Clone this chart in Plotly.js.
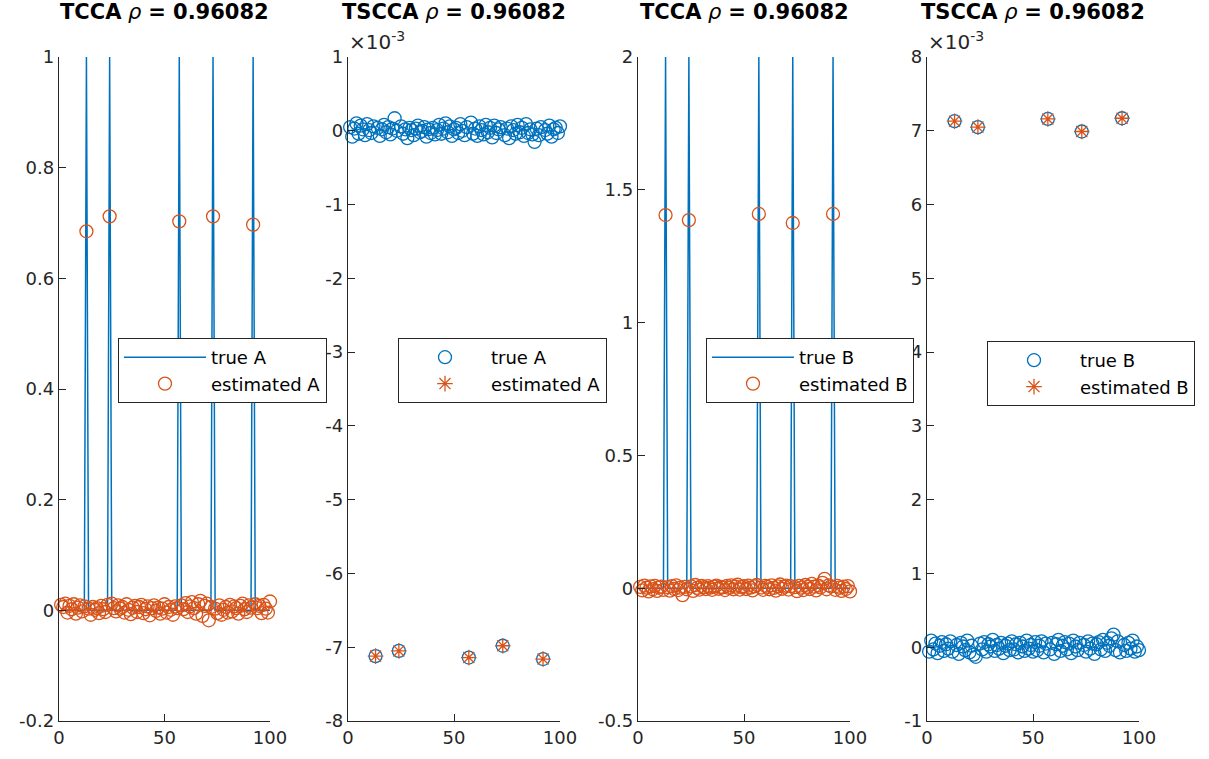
<!DOCTYPE html>
<html>
<head>
<meta charset="utf-8">
<script src="https://cdn.plot.ly/plotly-3.0.1.min.js"></script>
<style>html,body{margin:0;padding:0;background:#fff;}#chart{width:1209px;height:759px;}</style>
</head>
<body>
<div id="chart"></div>
<script>
// ---------------- DATA ----------------
var idx = [1,2,3,4,5,6,7,8,9,10,11,12,13,14,15,16,17,18,19,20,21,22,23,24,25,26,27,28,29,30,31,32,33,34,35,36,37,38,39,40,41,42,43,44,45,46,47,48,49,50,51,52,53,54,55,56,57,58,59,60,61,62,63,64,65,66,67,68,69,70,71,72,73,74,75,76,77,78,79,80,81,82,83,84,85,86,87,88,89,90,91,92,93,94,95,96,97,98,99,100];

var titles = ["TCCA", "TSCCA", "TCCA", "TSCCA"];
var rhoText = "0.96082";

// Panel 1: TCCA, A
var tccaTrueA = [
  0,0,0,0,0,0,0,0,0,0,
  0,0,1,0,0,0,0,0,0,0,
  0,0,0,1,0,0,0,0,0,0,
  0,0,0,0,0,0,0,0,0,0,
  0,0,0,0,0,0,0,0,0,0,
  0,0,0,0,0,0,1,0,0,0,
  0,0,0,0,0,0,0,0,0,0,
  0,0,1,0,0,0,0,0,0,0,
  0,0,0,0,0,0,0,0,0,0,
  0,1,0,0,0,0,0,0,0,0];
var tccaEstA = [
  0.010, 0.006, 0.012, -0.004, 0.008, 0.002, 0.011, -0.006, 0.005, 0.009,
  -0.002, 0.007, 0.685, 0.003, -0.008, 0.006, 0.001, 0.004, -0.005, 0.008,
  0.002, -0.003, 0.010, 0.712, 0.012, 0.004, -0.002, 0.009, 0.003, 0.006,
  -0.004, 0.011, 0.001, -0.007, 0.005, 0.008, -0.003, 0.006, 0.010, -0.005,
  0.002, 0.007, -0.009, 0.004, 0.009, -0.001, 0.005, -0.006, 0.003, 0.011,
  -0.004, 0.006, 0.001, -0.008, 0.007, 0.004, 0.703, 0.009, 0.002, 0.013,
  -0.003, 0.007, 0.015, 0.004, -0.006, 0.011, 0.017, -0.010, 0.008, 0.012,
  -0.018, 0.006, 0.712, 0.003, -0.005, 0.009, -0.008, 0.001, 0.006, -0.004,
  0.010, -0.002, 0.007, 0.004, -0.006, 0.008, 0.012, 0.002, -0.003, 0.009,
  0.005, 0.697, 0.011, 0.004, 0.008, -0.005, 0.010, 0.003, -0.004, 0.016];

// Panel 2: TSCCA, A (values in units of 1e-3)
var tsccaTrueA = [
  0.05, -0.08, 0.03, 0.10, -0.04, 0.07, 0.02, -0.06, 0.09, 0.01,
  -0.03, 0.06, -7.12, 0.04, -0.07, 0.02, 0.08, -0.02, 0.05, -0.05,
  0.03, 0.17, 0.00, -7.05, 0.06, -0.04, 0.02, -0.10, 0.04, 0.01,
  -0.06, 0.03, 0.07, -0.02, 0.00, 0.05, -0.08, 0.02, -0.03, 0.04,
  -0.05, 0.01, 0.08, -0.04, 0.03, 0.10, -0.02, 0.06, -0.07, 0.02,
  0.04, -0.03, 0.09, 0.00, -0.06, 0.05, -7.14, 0.11, -0.04, 0.03,
  -0.07, 0.06, 0.01, -0.05, 0.08, -0.02, 0.04, -0.09, 0.07, -0.03,
  0.02, 0.05, -6.98, -0.06, 0.03, -0.10, 0.06, 0.01, -0.04, 0.08,
  -0.02, 0.04, -0.07, 0.09, -0.03, 0.02, -0.05, -0.15, 0.03, -0.06,
  0.05, -7.16, 0.01, -0.04, 0.07, -0.08, 0.02, 0.04, -0.03, 0.06];
var tsccaEstAIdx = [13, 24, 57, 73, 92];
var tsccaEstA = [-7.12, -7.05, -7.14, -6.98, -7.16];

// Panel 3: TCCA, B
var tccaTrueB = [
  0,0,0,0,0,0,0,0,0,0,
  0,0,2,0,0,0,0,0,0,0,
  0,0,0,2,0,0,0,0,0,0,
  0,0,0,0,0,0,0,0,0,0,
  0,0,0,0,0,0,0,0,0,0,
  0,0,0,0,0,0,2,0,0,0,
  0,0,0,0,0,0,0,0,0,0,
  0,0,2,0,0,0,0,0,0,0,
  0,0,0,0,0,0,0,0,0,0,
  0,2,0,0,0,0,0,0,0,0];
var tccaEstB = [
  0.005, -0.008, 0.010, 0.002, -0.012, 0.007, -0.004, 0.009, -0.010, 0.003,
  0.006, -0.006, 1.405, 0.004, -0.009, 0.008, -0.003, 0.011, -0.007, 0.002,
  -0.026, 0.005, -0.004, 1.386, 0.007, -0.010, 0.012, 0.001, -0.005, 0.009,
  0.004, -0.003, 0.008, 0.002, -0.006, 0.006, 0.010, -0.002, 0.005, 0.003,
  -0.007, 0.009, 0.001, 0.011, -0.004, 0.006, 0.013, -0.005, 0.004, 0.008,
  -0.003, 0.010, 0.002, -0.008, 0.007, 0.012, 1.409, 0.003, -0.006, 0.009,
  0.005, -0.004, 0.011, 0.001, -0.009, 0.007, 0.014, -0.002, 0.006, 0.010,
  -0.005, 0.008, 1.375, 0.004, -0.011, 0.009, 0.002, -0.007, 0.012, 0.005,
  -0.003, 0.016, 0.006, -0.008, 0.010, 0.003, 0.020, 0.035, -0.004, 0.011,
  0.007, 1.409, -0.006, 0.009, 0.002, -0.010, 0.006, -0.003, 0.008, -0.012];

// Panel 4: TSCCA, B (values in units of 1e-3)
var tsccaTrueB = [
  -0.06, 0.09, -0.03, 0.05, -0.08, 0.02, 0.07, -0.05, 0.04, -0.02,
  0.08, -0.06, 7.13, 0.03, -0.09, 0.06, 0.01, -0.04, 0.09, -0.07,
  0.02, -0.10, -0.13, 7.05, 0.05, -0.03, 0.07, -0.06, 0.04, 0.01,
  0.10, -0.05, 0.03, -0.02, 0.06, -0.08, 0.02, 0.05, -0.04, 0.08,
  -0.03, 0.04, -0.07, 0.06, 0.01, -0.05, 0.09, -0.02, 0.03, -0.06,
  0.07, -0.04, 0.02, 0.08, -0.07, 0.05, 7.16, -0.03, 0.06, -0.09,
  0.04, 0.10, -0.05, 0.02, 0.07, -0.03, 0.05, -0.08, 0.09, 0.01,
  -0.04, 0.06, 6.99, 0.03, -0.06, 0.08, -0.02, 0.05, -0.09, 0.04,
  0.07, -0.03, 0.10, -0.05, 0.06, 0.02, 0.12, 0.17, -0.04, 0.08,
  -0.07, 7.17, 0.03, -0.05, 0.06, -0.02, 0.09, -0.06, 0.01, -0.04];
var tsccaEstBIdx = [13, 24, 57, 73, 92];
var tsccaEstB = [7.13, 7.05, 7.16, 6.99, 7.17];

// Tick labels
var xTickVals = [0, 50, 100];
var xTickText = ["0", "50", "100"];
var y1TickVals = [-0.2, 0, 0.2, 0.4, 0.6, 0.8, 1];
var y1TickText = ["-0.2", "0", "0.2", "0.4", "0.6", "0.8", "1"];
var y2TickVals = [-8, -7, -6, -5, -4, -3, -2, -1, 0, 1];
var y2TickText = ["-8", "-7", "-6", "-5", "-4", "-3", "-2", "-1", "0", "1"];
var y3TickVals = [-0.5, 0, 0.5, 1, 1.5, 2];
var y3TickText = ["-0.5", "0", "0.5", "1", "1.5", "2"];
var y4TickVals = [-1, 0, 1, 2, 3, 4, 5, 6, 7, 8];
var y4TickText = ["-1", "0", "1", "2", "3", "4", "5", "6", "7", "8"];

var legendNames = [["true A", "estimated A"], ["true A", "estimated A"], ["true B", "estimated B"], ["true B", "estimated B"]];

// ---------------- STYLE / LAYOUT ----------------
var W = 1209, H = 759;
var BLUE = "#0072BD", ORANGE = "#D95319", AX = "#262626";
var FONT = "DejaVu Sans";
var px = function (v) { return v / W; };
var py = function (v) { return 1 - v / H; };
var panelsX = [[59, 270], [348, 560], [638, 850], [927, 1139]];
var yTop = 57, yBot = 721;

var circ = {symbol: "circle-open", size: 13, color: BLUE, line: {width: 1.3, color: BLUE}};
var circO = {symbol: "circle-open", size: 13, color: ORANGE, line: {width: 1.3, color: ORANGE}};
var star = {symbol: "asterisk-open", size: 13, color: ORANGE, line: {width: 1.3, color: ORANGE}};

var traces = [
  {x: idx, y: tccaTrueA, type: "scatter", mode: "lines", line: {color: BLUE, width: 1.5}, name: legendNames[0][0], xaxis: "x", yaxis: "y", legend: "legend"},
  {x: idx, y: tccaEstA, type: "scatter", mode: "markers", marker: circO, cliponaxis: false, name: legendNames[0][1], xaxis: "x", yaxis: "y", legend: "legend"},
  {x: idx, y: tsccaTrueA, type: "scatter", mode: "markers", marker: circ, cliponaxis: false, name: legendNames[1][0], xaxis: "x2", yaxis: "y2", legend: "legend2"},
  {x: tsccaEstAIdx, y: tsccaEstA, type: "scatter", mode: "markers", marker: star, cliponaxis: false, name: legendNames[1][1], xaxis: "x2", yaxis: "y2", legend: "legend2"},
  {x: idx, y: tccaTrueB, type: "scatter", mode: "lines", line: {color: BLUE, width: 1.5}, name: legendNames[2][0], xaxis: "x3", yaxis: "y3", legend: "legend3"},
  {x: idx, y: tccaEstB, type: "scatter", mode: "markers", marker: circO, cliponaxis: false, name: legendNames[2][1], xaxis: "x3", yaxis: "y3", legend: "legend3"},
  {x: idx, y: tsccaTrueB, type: "scatter", mode: "markers", marker: circ, cliponaxis: false, name: legendNames[3][0], xaxis: "x4", yaxis: "y4", legend: "legend4"},
  {x: tsccaEstBIdx, y: tsccaEstB, type: "scatter", mode: "markers", marker: star, cliponaxis: false, name: legendNames[3][1], xaxis: "x4", yaxis: "y4", legend: "legend4"}
];

function xAxis(i, anchor) {
  return {
    domain: [px(panelsX[i][0]), px(panelsX[i][1])], anchor: anchor, range: [0, 100],
    tickmode: "array", tickvals: xTickVals, ticktext: xTickText,
    ticks: "inside", ticklen: 7, tickwidth: 1, tickcolor: AX,
    showline: true, linecolor: AX, linewidth: 1.3, mirror: false,
    showgrid: false, zeroline: false, fixedrange: true,
    tickfont: {family: FONT, size: 18, color: AX}
  };
}
function yAxis(i, anchor, rng, tv, tt) {
  return {
    domain: [py(yBot), py(yTop)], anchor: anchor, range: rng,
    tickmode: "array", tickvals: tv, ticktext: tt,
    ticks: "inside", ticklen: 7, tickwidth: 1, tickcolor: AX,
    showline: true, linecolor: AX, linewidth: 1.3, mirror: false,
    showgrid: false, zeroline: false, fixedrange: true,
    tickfont: {family: FONT, size: 18, color: AX}
  };
}
function leg(left, top) {
  return {
    x: px(left), y: py(top), xanchor: "left", yanchor: "top",
    bgcolor: "#ffffff", bordercolor: AX, borderwidth: 1,
    font: {family: FONT, size: 18, color: "#000"},
    itemwidth: 82, tracegroupgap: 0, itemclick: false, itemdoubleclick: false
  };
}

var annotations = [];
for (var i = 0; i < 4; i++) {
  annotations.push({
    xref: "paper", yref: "paper",
    x: px((panelsX[i][0] + panelsX[i][1]) / 2), y: py(12),
    xanchor: "center", yanchor: "middle", showarrow: false,
    text: "<b>" + titles[i] + "</b> <i>ρ</i> <b>= " + rhoText + "</b>",
    font: {family: FONT, size: 21, color: "#000"}
  });
}
[1, 3].forEach(function (i) {
  annotations.push({
    xref: "paper", yref: "paper",
    x: px(panelsX[i][0] - 1), y: py(56),
    xanchor: "left", yanchor: "bottom", showarrow: false,
    text: "×10<sup>-3</sup>",
    font: {family: FONT, size: 20, color: AX}
  });
});

var layout = {
  width: W, height: H,
  margin: {l: 0, r: 0, t: 0, b: 0},
  paper_bgcolor: "#ffffff", plot_bgcolor: "#ffffff",
  showlegend: true,
  xaxis: xAxis(0, "y"), yaxis: yAxis(0, "x", [-0.2, 1], y1TickVals, y1TickText),
  xaxis2: xAxis(1, "y2"), yaxis2: yAxis(1, "x2", [-8, 1], y2TickVals, y2TickText),
  xaxis3: xAxis(2, "y3"), yaxis3: yAxis(2, "x3", [-0.5, 2], y3TickVals, y3TickText),
  xaxis4: xAxis(3, "y4"), yaxis4: yAxis(3, "x4", [-1, 8], y4TickVals, y4TickText),
  legend: leg(118, 338), legend2: leg(398, 338), legend3: leg(706, 338), legend4: leg(987, 341),
  annotations: annotations
};

Plotly.newPlot("chart", traces, layout, {displayModeBar: false, staticPlot: true});
</script>
</body>
</html>
